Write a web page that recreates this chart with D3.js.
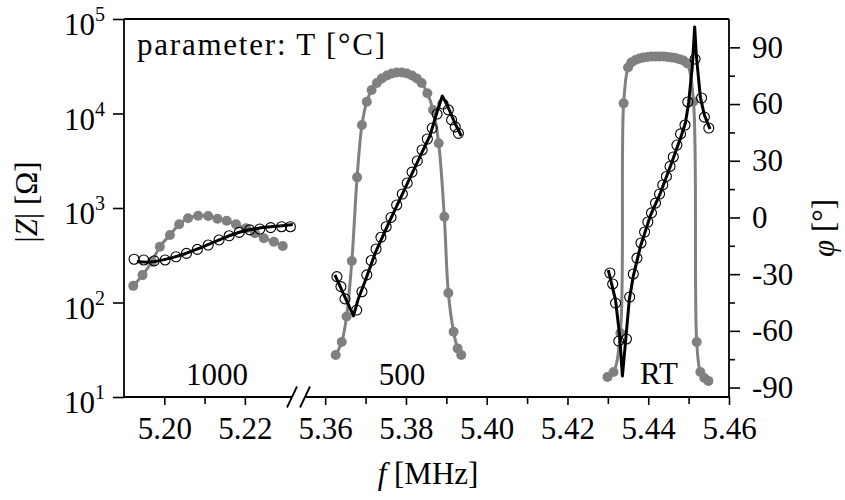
<!DOCTYPE html>
<html>
<head>
<meta charset="utf-8">
<script src="https://cdn.jsdelivr.net/npm/d3@7"></script>
<style>
    body { margin: 0; background: #fff; }
    svg text { font-family: 'Liberation Serif', 'DejaVu Serif', serif; fill: #000; }
</style>
</head>
<body>
<svg id="chart" width="845" height="500" font-family="Liberation Serif, serif"></svg>
<script>
// T = 1000 °C
const freqMag1000 = [5.1923, 5.1946, 5.1969, 5.1989, 5.2014, 5.2037, 5.2059, 5.2084, 5.2109, 5.2132, 5.2155, 5.2178, 5.2203, 5.2225, 5.2247, 5.2272, 5.2294];
const absZ1000 = [150, 195, 270, 389, 518, 672, 778, 829, 823, 770, 734, 672, 609, 540, 478, 440, 396];
const freqPhase1000 = [5.1925, 5.1949, 5.1975, 5.2002, 5.2029, 5.2055, 5.2082, 5.2109, 5.2136, 5.2161, 5.2186, 5.2212, 5.2237, 5.2264, 5.2291, 5.2313];
const phase1000 = [-22.1, -22.5, -23.0, -22.5, -20.8, -19.0, -16.9, -14.6, -11.9, -9.7, -7.9, -6.6, -6.1, -5.4, -4.9, -4.9];
const freqFit1000 = [5.1932, 5.1964, 5.2002, 5.2039, 5.2088, 5.2138, 5.2188, 5.2237, 5.2287, 5.2319];
const phaseFit1000 = [-23.3, -23.6, -22.2, -20.1, -16.2, -11.7, -7.7, -5.6, -4.5, -3.7];

// T = 500 °C
const freqMag500 = [5.3626, 5.3641, 5.3653, 5.3666, 5.3679, 5.3691, 5.3703, 5.3715, 5.3728, 5.3740, 5.3753, 5.3765, 5.3777, 5.3790, 5.3802, 5.3815, 5.3827, 5.3839, 5.3853, 5.3867, 5.3881, 5.3895, 5.3905, 5.3918, 5.3928, 5.3937];
const absZ500 = [27.8, 38.2, 71.1, 275, 2110, 7550, 13300, 17700, 21000, 23500, 25200, 26500, 27100, 27100, 26500, 25200, 23500, 21000, 16400, 10900, 4840, 809, 126, 49.1, 32.7, 27.8];
const freqPhase500 = [5.3629, 5.3639, 5.3649, 5.3678, 5.3691, 5.3703, 5.3714, 5.3726, 5.3738, 5.3751, 5.3763, 5.3777, 5.3791, 5.3803, 5.3815, 5.3828, 5.3840, 5.3853, 5.3865, 5.3877, 5.3892, 5.3905, 5.3913, 5.3922, 5.3930];
const phase500 = [-31.3, -36.6, -43.1, -49.0, -39.3, -30.4, -22.8, -16.7, -10.5, -4.9, 0.0, 6.6, 12.4, 18.2, 24.0, 29.9, 35.7, 41.5, 47.3, 54.7, 60.0, 56.9, 51.6, 47.9, 44.5];
const freqFit500 = [5.3624, 5.3670, 5.3681, 5.3699, 5.3724, 5.3761, 5.3810, 5.3860, 5.3877, 5.3890, 5.3902, 5.3920, 5.3937];
const phaseFit500 = [-30.4, -52.1, -43.7, -33.6, -18.8, -1.3, 20.9, 43.6, 55.8, 64.3, 59.5, 50.5, 43.1];

// T = RT
const freqMagRT = [5.4299, 5.4314, 5.4331, 5.4339, 5.4350, 5.4358, 5.4368, 5.4378, 5.4388, 5.4398, 5.4408, 5.4418, 5.4428, 5.4438, 5.4448, 5.4458, 5.4467, 5.4477, 5.4487, 5.4497, 5.4512, 5.4520, 5.4529, 5.4539, 5.4549];
const absZRT = [16.3, 18.4, 47.5, 12800, 30700, 34700, 36800, 38200, 39100, 39600, 40100, 40100, 40100, 40100, 39600, 39100, 38700, 37600, 36400, 33800, 13400, 38.2, 18.4, 15.9, 14.8];
const freqPhaseRT = [5.4305, 5.4312, 5.4319, 5.4327, 5.4346, 5.4354, 5.4363, 5.4372, 5.4382, 5.4391, 5.4399, 5.4408, 5.4418, 5.4428, 5.4436, 5.4445, 5.4454, 5.4462, 5.4471, 5.4480, 5.4491, 5.4498, 5.4516, 5.4532, 5.4539, 5.4550];
const phaseRT = [-29.4, -35.2, -45.3, -65.4, -64.3, -42.1, -29.9, -21.5, -13.5, -7.7, -2.4, 2.4, 7.6, 12.4, 17.2, 21.7, 27.0, 32.0, 38.3, 44.2, 48.9, 61.1, 83.8, 63.2, 53.1, 47.3];
const freqFitRT = [5.4301, 5.4319, 5.4329, 5.4336, 5.4343, 5.4353, 5.4363, 5.4381, 5.4405, 5.4430, 5.4455, 5.4480, 5.4492, 5.4500, 5.4509, 5.4515, 5.4519, 5.4529, 5.4539, 5.4553];
const phaseFitRT = [-27.8, -43.7, -62.2, -83.9, -67.5, -43.7, -31.0, -15.1, 0.8, 12.9, 27.2, 42.0, 50.0, 60.6, 79.6, 100.8, 86.0, 63.7, 54.2, 46.8];

// axis ticks
const magTicks = [1, 2, 3, 4, 5];           // exponents of 10
const phaseTicks = [-90, -60, -30, 0, 30, 60, 90];
const phaseMinorTicks = [-75, -45, -15, 15, 45, 75];
const freqTicksLeft = [5.20, 5.22];
const freqMinorLeft = [5.21];
const freqTicksRight = [5.36, 5.38, 5.40, 5.42, 5.44, 5.46];
const freqMinorRight = [5.37, 5.39, 5.41, 5.43, 5.45];

const fontSize = 31;
const serif = 'Liberation Serif, DejaVu Serif, serif';
const grey = '#808080';
const plot = { left: 124, right: 729, top: 19, bottom: 397, breakL: 292, breakR: 305 };

const svg = d3.select('#chart');

const xLeft = d3.scaleLinear().domain([5.19, 5.2317]).range([plot.left, plot.breakL]);
const xRight = d3.scaleLinear().domain([5.355, 5.46]).range([plot.breakR, plot.right]);
const yMag = d3.scaleLog().domain([10, 1e5]).range([plot.bottom, plot.top]);
const yPhase = d3.scaleLinear().domain([-95, 105]).range([plot.bottom, plot.top]);

const panels = [
    { x: xLeft, fm: freqMag1000, m: absZ1000, fp: freqPhase1000, p: phase1000, ff: freqFit1000, pf: phaseFit1000, curve: d3.curveCatmullRom },
    { x: xRight, fm: freqMag500, m: absZ500, fp: freqPhase500, p: phase500, ff: freqFit500, pf: phaseFit500, curve: d3.curveLinear },
    { x: xRight, fm: freqMagRT, m: absZRT, fp: freqPhaseRT, p: phaseRT, ff: freqFitRT, pf: phaseFitRT, curve: d3.curveLinear }
];

function drawPanel(panel) {
    const g = svg.append('g');
    const magIdx = d3.range(panel.fm.length);
    const phIdx = d3.range(panel.fp.length);
    const fitIdx = d3.range(panel.ff.length);

    const magLine = d3.line()
        .x(i => panel.x(panel.fm[i]))
        .y(i => yMag(panel.m[i]))
        .curve(d3.curveCatmullRom);

    g.append('path')
        .attr('d', magLine(magIdx))
        .attr('fill', 'none')
        .attr('stroke', grey)
        .attr('stroke-width', 3);

    g.selectAll('circle.mag')
        .data(magIdx)
        .enter()
        .append('circle')
        .attr('class', 'mag')
        .attr('cx', i => panel.x(panel.fm[i]))
        .attr('cy', i => yMag(panel.m[i]))
        .attr('r', 5)
        .attr('fill', grey);

    g.selectAll('circle.ph')
        .data(phIdx)
        .enter()
        .append('circle')
        .attr('class', 'ph')
        .attr('cx', i => panel.x(panel.fp[i]))
        .attr('cy', i => yPhase(panel.p[i]))
        .attr('r', 5)
        .attr('fill', 'none')
        .attr('stroke', '#000')
        .attr('stroke-width', 1.1);

    const fitLine = d3.line()
        .x(i => panel.x(panel.ff[i]))
        .y(i => yPhase(panel.pf[i]))
        .curve(panel.curve);

    g.append('path')
        .attr('d', fitLine(fitIdx))
        .attr('fill', 'none')
        .attr('stroke', '#000')
        .attr('stroke-width', 3)
        .attr('stroke-linejoin', 'round');
}

panels.forEach(drawPanel);

// frame
const frame = svg.append('g').attr('stroke', '#000').attr('stroke-width', 1.8).attr('fill', 'none');
frame.append('path').attr('d', `M${plot.left},${plot.top}H${plot.right}`);
frame.append('path').attr('d', `M${plot.left},${plot.top}V${plot.bottom}H${plot.breakL}`);
frame.append('path').attr('d', `M${plot.breakR},${plot.bottom}H${plot.right}V${plot.top}`);
[plot.breakL, plot.breakR].forEach(bx => {
    frame.append('path').attr('d', `M${bx - 5},${plot.bottom + 10.5}L${bx + 5},${plot.bottom - 10.5}`);
});

function styleAxis(g) {
    g.attr('font-family', serif).attr('font-size', fontSize);
    g.select('.domain').remove();
    g.selectAll('.tick line').attr('stroke', '#000').attr('stroke-width', 1.6);
    g.selectAll('.tick text').attr('font-size', fontSize).attr('font-family', serif);
}

// left |Z| axis
svg.append('g')
    .attr('transform', `translate(${plot.left},0)`)
    .call(d3.axisLeft(yMag).tickValues(magTicks.map(e => Math.pow(10, e))).tickSize(11).tickFormat(''))
    .call(styleAxis);

const magLabels = svg.selectAll('text.maglab')
    .data(magTicks)
    .enter()
    .append('text')
    .attr('class', 'maglab')
    .attr('x', 105)
    .attr('y', e => yMag(Math.pow(10, e)) + 16)
    .attr('text-anchor', 'end')
    .attr('font-family', serif)
    .attr('font-size', fontSize);
magLabels.append('tspan').text('10');
magLabels.append('tspan').attr('font-size', 20).attr('dy', -14).text(e => e);

// right phase axis
svg.append('g')
    .attr('transform', `translate(${plot.right},0)`)
    .call(d3.axisRight(yPhase).tickValues(phaseTicks).tickSize(11).tickPadding(12).tickFormat(d => d < 0 ? '-' + Math.abs(d) : d))
    .call(styleAxis);
svg.append('g')
    .attr('transform', `translate(${plot.right},0)`)
    .call(d3.axisRight(yPhase).tickValues(phaseMinorTicks).tickSize(6).tickFormat(''))
    .call(styleAxis);

// bottom frequency axes
[[xLeft, freqTicksLeft, freqMinorLeft], [xRight, freqTicksRight, freqMinorRight]].forEach(([sc, major, minor]) => {
    svg.append('g')
        .attr('transform', `translate(0,${plot.bottom})`)
        .call(d3.axisBottom(sc).tickValues(major).tickSize(8).tickPadding(12).tickFormat(d3.format('.2f')))
        .call(styleAxis);
    svg.append('g')
        .attr('transform', `translate(0,${plot.bottom})`)
        .call(d3.axisBottom(sc).tickValues(minor).tickSize(7).tickFormat(''))
        .call(styleAxis);
});

// annotations
function label(x, y, txt, anchor) {
    return svg.append('text')
        .attr('x', x).attr('y', y)
        .attr('font-family', serif)
        .attr('font-size', fontSize)
        .attr('text-anchor', anchor || 'start')
        .text(txt);
}
label(137, 55, 'parameter: T [°C]').attr('textLength', 248).attr('lengthAdjust', 'spacing');
label(217, 385, '1000', 'middle');
label(402, 385, '500', 'middle');
label(659, 384, 'RT', 'middle');

// axis titles
const xTitle = svg.append('text').attr('x', 428).attr('y', 484)
    .attr('font-family', serif).attr('font-size', fontSize).attr('text-anchor', 'middle');
xTitle.append('tspan').attr('font-style', 'italic').text('f');
xTitle.append('tspan').text(' [MHz]');

const yTitle = svg.append('text').attr('transform', 'translate(37,202) rotate(-90)')
    .attr('font-family', serif).attr('font-size', fontSize).attr('text-anchor', 'middle');
yTitle.append('tspan').text('|');
yTitle.append('tspan').attr('font-style', 'italic').text('Z');
yTitle.append('tspan').text('| [Ω]');

const y2Title = svg.append('text').attr('transform', 'translate(834,228) rotate(-90)')
    .attr('font-family', serif).attr('font-size', fontSize).attr('text-anchor', 'middle');
y2Title.append('tspan').attr('font-style', 'italic').text('φ');
y2Title.append('tspan').text(' [°]');
</script>
</body>
</html>
